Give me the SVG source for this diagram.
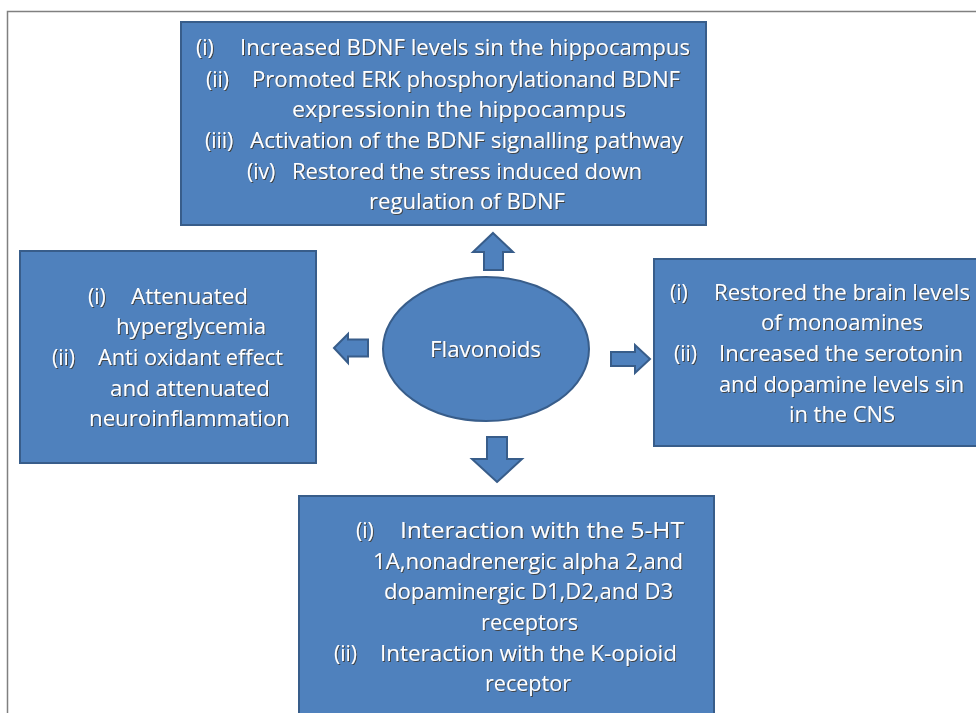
<svg xmlns="http://www.w3.org/2000/svg" width="976" height="713" viewBox="0 0 976 713">
<defs>
<filter id="sh" x="-5%" y="-20%" width="110%" height="140%">
<feDropShadow dx="1" dy="1" stdDeviation="0.3" flood-color="#3a2a10" flood-opacity="0.7"/>
</filter>
</defs>
<style>
.box{fill:#4F81BD;stroke:#385D8A;stroke-width:2}
.arr{fill:#4F81BD;stroke:#385D8A;stroke-width:2;stroke-linejoin:miter}
text{font-family:"Open Sans","Liberation Sans",sans-serif;font-size:21px;fill:#ffffff;filter:url(#sh)}
text[textLength]{}
</style>
<rect x="0" y="0" width="976" height="713" fill="#ffffff"/>
<path d="M7.5 713 V11.5 H976" fill="none" stroke="#808080" stroke-width="1.5"/>

<g id="connectors">
<path class="arr" d="M493 233 L513 252 L503 252 L503 270 L484 270 L484 252 L473 252 Z"/>
<path class="arr" d="M334 348 L348 334 L348 339.5 L368 339.5 L368 356.5 L348 356.5 L348 363 Z"/>
<path class="arr" d="M650 359 L635 345 L635 352 L611 352 L611 366 L635 366 L635 373 Z"/>
<path class="arr" d="M497 482 L522 459 L507 459 L507 437 L487 437 L487 459 L472 459 Z"/>
</g>

<g id="node-top">
<rect class="box" x="181" y="22" width="525" height="203"/>
<text x="196" y="55">(i)</text><text x="240" y="55" textLength="450" lengthAdjust="spacingAndGlyphs">Increased BDNF levels sin the hippocampus</text>
<text x="206" y="87">(ii)</text><text x="252" y="87" textLength="428" lengthAdjust="spacingAndGlyphs">Promoted ERK phosphorylationand BDNF</text>
<text x="292" y="117" textLength="334" lengthAdjust="spacingAndGlyphs">expressionin the hippocampus</text>
<text x="205" y="148">(iii)</text><text x="250" y="148" textLength="433" lengthAdjust="spacingAndGlyphs">Activation of the BDNF signalling pathway</text>
<text x="247" y="179">(iv)</text><text x="292" y="179" textLength="350" lengthAdjust="spacingAndGlyphs">Restored the stress  induced down</text>
<text x="369" y="209" textLength="196" lengthAdjust="spacingAndGlyphs">regulation of BDNF</text>
</g>

<g id="node-left">
<rect class="box" x="20" y="251" width="296" height="212"/>
<text x="88" y="304">(i)</text><text x="131" y="304" textLength="117" lengthAdjust="spacingAndGlyphs">Attenuated</text>
<text x="116" y="334" textLength="150" lengthAdjust="spacingAndGlyphs">hyperglycemia</text>
<text x="52" y="365">(ii)</text><text x="98" y="365" textLength="185" lengthAdjust="spacingAndGlyphs">Anti oxidant effect</text>
<text x="110" y="396" textLength="160" lengthAdjust="spacingAndGlyphs">and attenuated</text>
<text x="89" y="426" textLength="201" lengthAdjust="spacingAndGlyphs">neuroinflammation</text>
</g>

<g id="node-right">
<rect class="box" x="654" y="259" width="330" height="187"/>
<text x="670" y="300">(i)</text><text x="714" y="300" textLength="256" lengthAdjust="spacingAndGlyphs">Restored the brain levels</text>
<text x="761" y="330" textLength="162" lengthAdjust="spacingAndGlyphs">of monoamines</text>
<text x="674" y="361">(ii)</text><text x="719" y="361" textLength="244" lengthAdjust="spacingAndGlyphs">Increased the serotonin</text>
<text x="719" y="392" textLength="245" lengthAdjust="spacingAndGlyphs">and dopamine levels sin</text>
<text x="789" y="422" textLength="106" lengthAdjust="spacingAndGlyphs">in the CNS</text>
</g>

<g id="node-bottom">
<rect class="box" x="299" y="496" width="415" height="230"/>
<text x="356" y="538">(i)</text><text x="400" y="538" textLength="284" lengthAdjust="spacingAndGlyphs">Interaction with the 5-HT</text>
<text x="373" y="569" textLength="310" lengthAdjust="spacingAndGlyphs">1A,nonadrenergic alpha 2,and</text>
<text x="384" y="599" textLength="289" lengthAdjust="spacingAndGlyphs">dopaminergic D1,D2,and D3</text>
<text x="481" y="630" textLength="97" lengthAdjust="spacingAndGlyphs">receptors</text>
<text x="334" y="661">(ii)</text><text x="380" y="661" textLength="297" lengthAdjust="spacingAndGlyphs">Interaction with the K-opioid</text>
<text x="485" y="691" textLength="86" lengthAdjust="spacingAndGlyphs">receptor</text>
</g>

<g id="node-center">
<ellipse class="box" cx="486" cy="349" rx="103" ry="72"/>
<text x="430" y="357" textLength="111" lengthAdjust="spacingAndGlyphs">Flavonoids</text>
</g>
</svg>
